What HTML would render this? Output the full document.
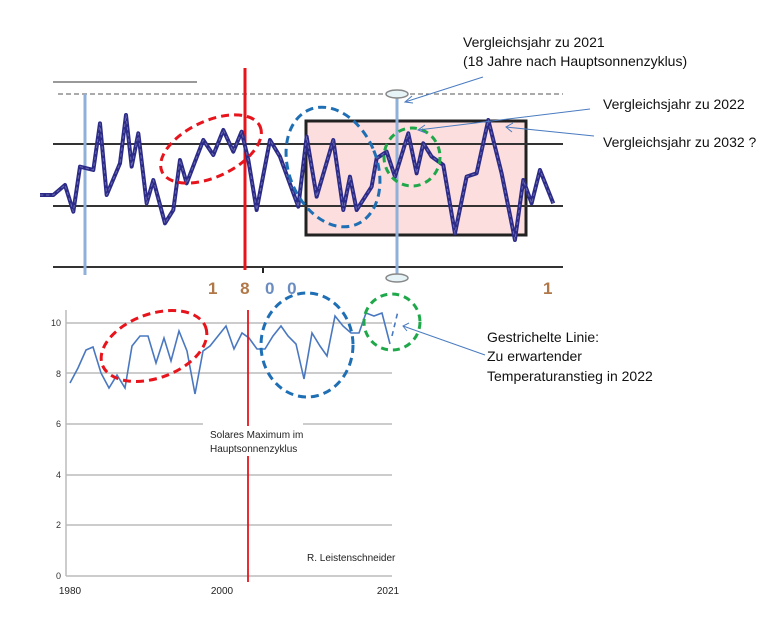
<!DOCTYPE html>
<html><head><meta charset="utf-8"><style>
html,body{margin:0;padding:0;background:#fff;}
svg{display:block;font-family:"Liberation Sans",sans-serif;}
</style></head><body>
<svg width="783" height="622" viewBox="0 0 783 622">
<!-- TOP CHART -->
<line x1="53" y1="82" x2="197" y2="82" stroke="#999" stroke-width="2"/>
<line x1="58" y1="94" x2="563" y2="94" stroke="#555" stroke-width="1" stroke-dasharray="5,3"/>
<rect x="306" y="121" width="220" height="114" fill="#fddede" stroke="#222" stroke-width="3"/>
<line x1="53" y1="144" x2="563" y2="144" stroke="#333" stroke-width="2"/>
<line x1="53" y1="206" x2="563" y2="206" stroke="#333" stroke-width="2"/>
<line x1="53" y1="267" x2="563" y2="267" stroke="#333" stroke-width="2"/>
<line x1="85" y1="94" x2="85" y2="275" stroke="#8fb0d8" stroke-width="3"/>
<line x1="397" y1="94" x2="397" y2="276" stroke="#8fb0d8" stroke-width="3"/>
<ellipse cx="397" cy="94" rx="11" ry="4" fill="#e6f4f8" stroke="#888" stroke-width="1.5"/>
<ellipse cx="397" cy="278" rx="11" ry="4" fill="#e6f4f8" stroke="#888" stroke-width="1.5"/>
<line x1="245" y1="68" x2="245" y2="270" stroke="#e8141c" stroke-width="3"/>
<line x1="263" y1="268" x2="263" y2="273" stroke="#222" stroke-width="2"/>
<g transform="translate(40,70) scale(0.3333)">
<polyline fill="none" stroke="#2c2c88" stroke-width="12" stroke-linejoin="round" points="0,375 40,375 75,345 100,425 120,290 160,300 180,160 200,375 240,280 258,135 275,290 295,190 320,400 340,330 375,460 400,420 420,270 440,340 490,210 520,255 550,180 580,245 605,185 625,270 650,420 690,210 720,260 775,410 800,200 830,380 880,210 910,420 930,320 950,420 995,350 1010,265 1040,245 1065,320 1105,190 1130,310 1150,220 1175,260 1210,285 1245,490 1280,320 1310,310 1345,150 1385,310 1425,510 1450,330 1475,400 1500,300 1540,400"/>
<polyline fill="none" stroke="#6a6ab0" stroke-width="3" stroke-dasharray="10,8" stroke-linejoin="round" points="0,375 40,375 75,345 100,425 120,290 160,300 180,160 200,375 240,280 258,135 275,290 295,190 320,400 340,330 375,460 400,420 420,270 440,340 490,210 520,255 550,180 580,245 605,185 625,270 650,420 690,210 720,260 775,410 800,200 830,380 880,210 910,420 930,320 950,420 995,350 1010,265 1040,245 1065,320 1105,190 1130,310 1150,220 1175,260 1210,285 1245,490 1280,320 1310,310 1345,150 1385,310 1425,510 1450,330 1475,400 1500,300 1540,400"/>
</g>
<ellipse cx="211" cy="149" rx="54" ry="28" transform="rotate(-25 211 149)" fill="none" stroke="#e8141c" stroke-width="3" stroke-dasharray="8,5"/>
<ellipse cx="333" cy="167" rx="44" ry="62" transform="rotate(-22 333 167)" fill="none" stroke="#1f6fb5" stroke-width="3" stroke-dasharray="8,5"/>
<ellipse cx="412" cy="157" rx="28" ry="29" fill="none" stroke="#1fa84a" stroke-width="3" stroke-dasharray="7,5"/>
<text x="208" y="294" font-size="17" font-weight="bold" fill="#b07848" letter-spacing="9">1 8</text>
<text x="265" y="294" font-size="17" font-weight="bold" fill="#6a8cc0" letter-spacing="4">0 0</text>
<text x="543" y="294" font-size="17" font-weight="bold" fill="#b07848">1</text>
<!-- annotations -->
<g font-size="14" fill="#111">
<text x="463" y="47">Vergleichsjahr zu 2021</text>
<text x="463" y="66">(18 Jahre nach Hauptsonnenzyklus)</text>
<text x="603" y="109">Vergleichsjahr zu 2022</text>
<text x="603" y="147">Vergleichsjahr zu 2032 ?</text>
<text x="487" y="342">Gestrichelte Linie:</text>
<text x="487" y="361">Zu erwartender</text>
<text x="487" y="381">Temperaturanstieg in 2022</text>
</g>
<g stroke="#4a7cc0" stroke-width="1" fill="none">
<line x1="483" y1="77" x2="405" y2="102"/><polyline points="412,96 405,102 413,103"/>
<line x1="590" y1="109" x2="418" y2="130"/><polyline points="425,125 418,130 426,133"/>
<line x1="594" y1="136" x2="506" y2="127"/><polyline points="513,123 506,127 512,132"/>
<line x1="485" y1="355" x2="403" y2="326"/><polyline points="409,323 403,326 407,331"/>
</g>
<!-- BOTTOM CHART -->
<g stroke="#bbb" stroke-width="1.5">
<line x1="66" y1="323" x2="392" y2="323"/>
<line x1="66" y1="373" x2="392" y2="373"/>
<line x1="66" y1="424" x2="203" y2="424"/><line x1="303" y1="424" x2="392" y2="424"/>
<line x1="66" y1="475" x2="392" y2="475"/>
<line x1="66" y1="525" x2="392" y2="525"/>
<line x1="66" y1="576" x2="392" y2="576"/>
<line x1="66" y1="310" x2="66" y2="576"/>
</g>
<g font-size="9" fill="#333" text-anchor="end">
<text x="61" y="326">10</text><text x="61" y="377">8</text><text x="61" y="427">6</text>
<text x="61" y="478">4</text><text x="61" y="528">2</text><text x="61" y="579">0</text>
</g>
<g font-size="10" fill="#222" text-anchor="middle">
<text x="70" y="594">1980</text><text x="222" y="594">2000</text><text x="388" y="594">2021</text>
</g>
<polyline fill="none" stroke="#4a78c0" stroke-width="1.6" points="70,383 78,368 86,350 93,347 101,373 109,388 117,375 125,388 132,346 140,336 148,336 156,363 164,338 171,361 179,331 187,351 195,394 203,351 210,346 218,336 226,326 234,349 242,333 249,338 257,349 265,349 273,336 281,326 288,336 296,344 304,379 312,333 320,346 327,356 335,316 343,326 351,333 359,333 366,313 374,316 382,313 390,344"/>
<line x1="392" y1="336" x2="398" y2="311" stroke="#4a78c0" stroke-width="1.6" stroke-dasharray="5,4"/>
<line x1="248" y1="310" x2="248" y2="582" stroke="#e8141c" stroke-width="1.8"/>
<rect x="204" y="426" width="88" height="30" fill="#fff"/>
<text x="210" y="438" font-size="10" fill="#222">Solares Maximum im</text>
<text x="210" y="452" font-size="10" fill="#222">Hauptsonnenzyklus</text>
<text x="307" y="561" font-size="10" fill="#222">R. Leistenschneider</text>
<ellipse cx="154" cy="346" rx="55" ry="32" transform="rotate(-20 154 346)" fill="none" stroke="#e8141c" stroke-width="3" stroke-dasharray="8,5"/>
<ellipse cx="307" cy="345" rx="46" ry="52" fill="none" stroke="#1f6fb5" stroke-width="3" stroke-dasharray="8,5"/>
<ellipse cx="392" cy="322" rx="28" ry="28" fill="none" stroke="#1fa84a" stroke-width="3" stroke-dasharray="7,5"/>
</svg>
</body></html>
